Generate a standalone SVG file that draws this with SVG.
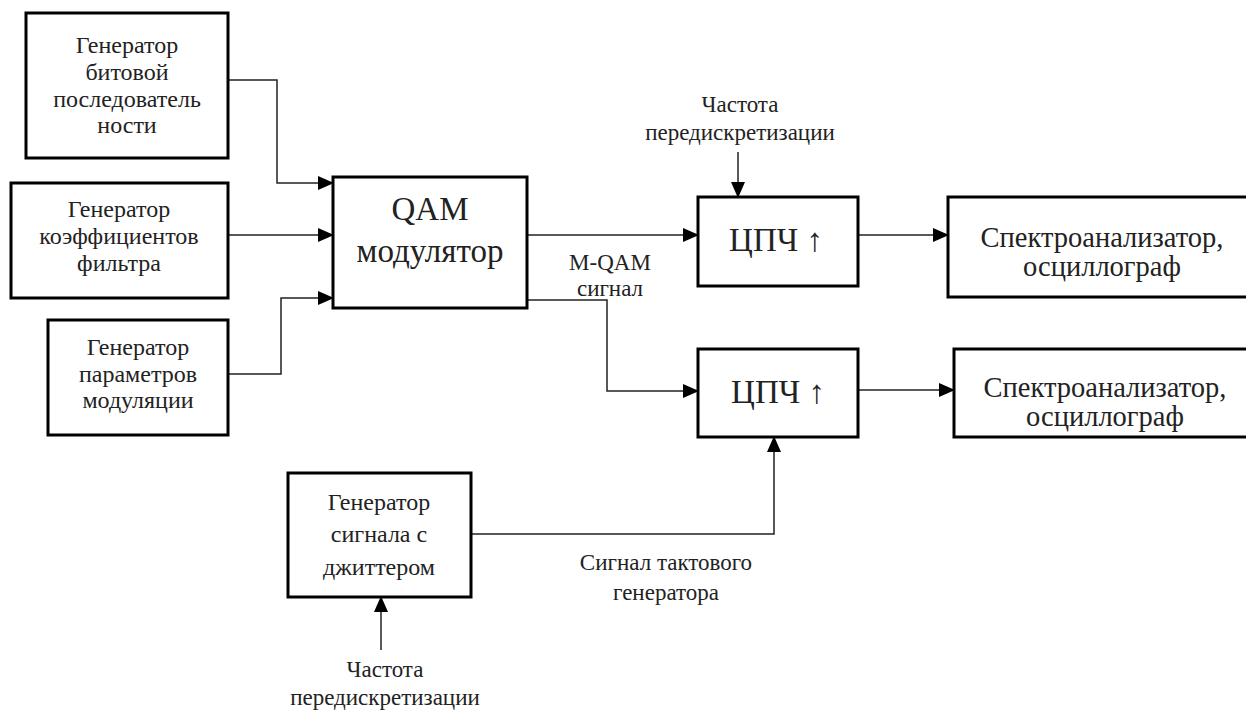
<svg xmlns="http://www.w3.org/2000/svg" width="1246" height="710" viewBox="0 0 1246 710">
<defs>
<marker id="arr" markerWidth="16" markerHeight="14" refX="15" refY="7" orient="auto" markerUnits="userSpaceOnUse">
<path d="M0,0 L16,7 L0,14 Z" fill="#000"/>
</marker>
<style>
.box{fill:#fff;stroke:#000;stroke-width:3}
.t{font-size:24px}
.tb{font-size:33px}
.tm{font-size:28.5px}
.ts{font-size:23px}
.c{fill:none;stroke:#222;stroke-width:1.5;marker-end:url(#arr)}
</style>
</defs>
<rect width="1246" height="710" fill="#fff"/>
<g id="connectors">
<path class="c" d="M228,80 H277 V183 H333"/>
<path class="c" d="M228,235 H333"/>
<path class="c" d="M228,374 H281 V298 H333"/>
<path class="c" d="M527,235 H698"/>
<path class="c" d="M527,300 H607 V391 H698"/>
<path class="c" d="M738,152 V197"/>
<path class="c" d="M858,235 H948"/>
<path class="c" d="M858,390 H954"/>
<path class="c" d="M471,534 H774 V437"/>
<path class="c" d="M381,650 V597"/>
</g>
<g font-family="'Liberation Serif', 'Times New Roman', 'DejaVu Serif', serif" fill="#222" text-anchor="middle">
<g id="gen-bit">
<rect class="box" x="26" y="13" width="202" height="145"/>
<text class="t" x="127" y="53">Генератор</text>
<text class="t" x="127" y="80">битовой</text>
<text class="t" x="127" y="107">последователь</text>
<text class="t" x="127" y="133">ности</text>
</g>
<g id="gen-coef">
<rect class="box" x="11" y="183" width="217" height="115"/>
<text class="t" x="119" y="217">Генератор</text>
<text class="t" x="119" y="244">коэффициентов</text>
<text class="t" x="119" y="271">фильтра</text>
</g>
<g id="gen-mod">
<rect class="box" x="48" y="320" width="180" height="115"/>
<text class="t" x="138" y="355">Генератор</text>
<text class="t" x="138" y="382">параметров</text>
<text class="t" x="138" y="408">модуляции</text>
</g>
<g id="qam">
<rect class="box" x="333" y="177" width="194" height="131"/>
<text class="tb" x="430" y="220">QAM</text>
<text class="tb" x="430" y="262">модулятор</text>
</g>
<g id="cpch1">
<rect class="box" x="698" y="197" width="160" height="89"/>
<text class="tb" x="776" y="251">ЦПЧ ↑</text>
</g>
<g id="cpch2">
<rect class="box" x="698" y="349" width="160" height="88"/>
<text class="tb" x="778" y="403">ЦПЧ ↑</text>
</g>
<g id="spec1">
<rect class="box" x="948" y="197" width="310" height="100"/>
<text class="tm" x="1102" y="247">Спектроанализатор,</text>
<text class="tm" x="1102" y="276">осциллограф</text>
</g>
<g id="spec2">
<rect class="box" x="954" y="349" width="310" height="88"/>
<text class="tm" x="1105" y="397">Спектроанализатор,</text>
<text class="tm" x="1105" y="426">осциллограф</text>
</g>
<g id="jitter">
<rect class="box" x="288" y="473" width="183" height="124"/>
<text class="t" x="379" y="510">Генератор</text>
<text class="t" x="379" y="542">сигнала с</text>
<text class="t" x="379" y="575">джиттером</text>
</g>
<g id="labels">
<text class="ts" x="610" y="270">M-QAM</text>
<text class="ts" x="610" y="296">сигнал</text>
<text class="ts" x="740" y="112">Частота</text>
<text class="ts" x="740" y="140">передискретизации</text>
<text class="ts" x="666" y="570">Сигнал тактового</text>
<text class="ts" x="666" y="600">генератора</text>
<text class="ts" x="385" y="677">Частота</text>
<text class="ts" x="385" y="705">передискретизации</text>
</g>
</g>
</svg>
